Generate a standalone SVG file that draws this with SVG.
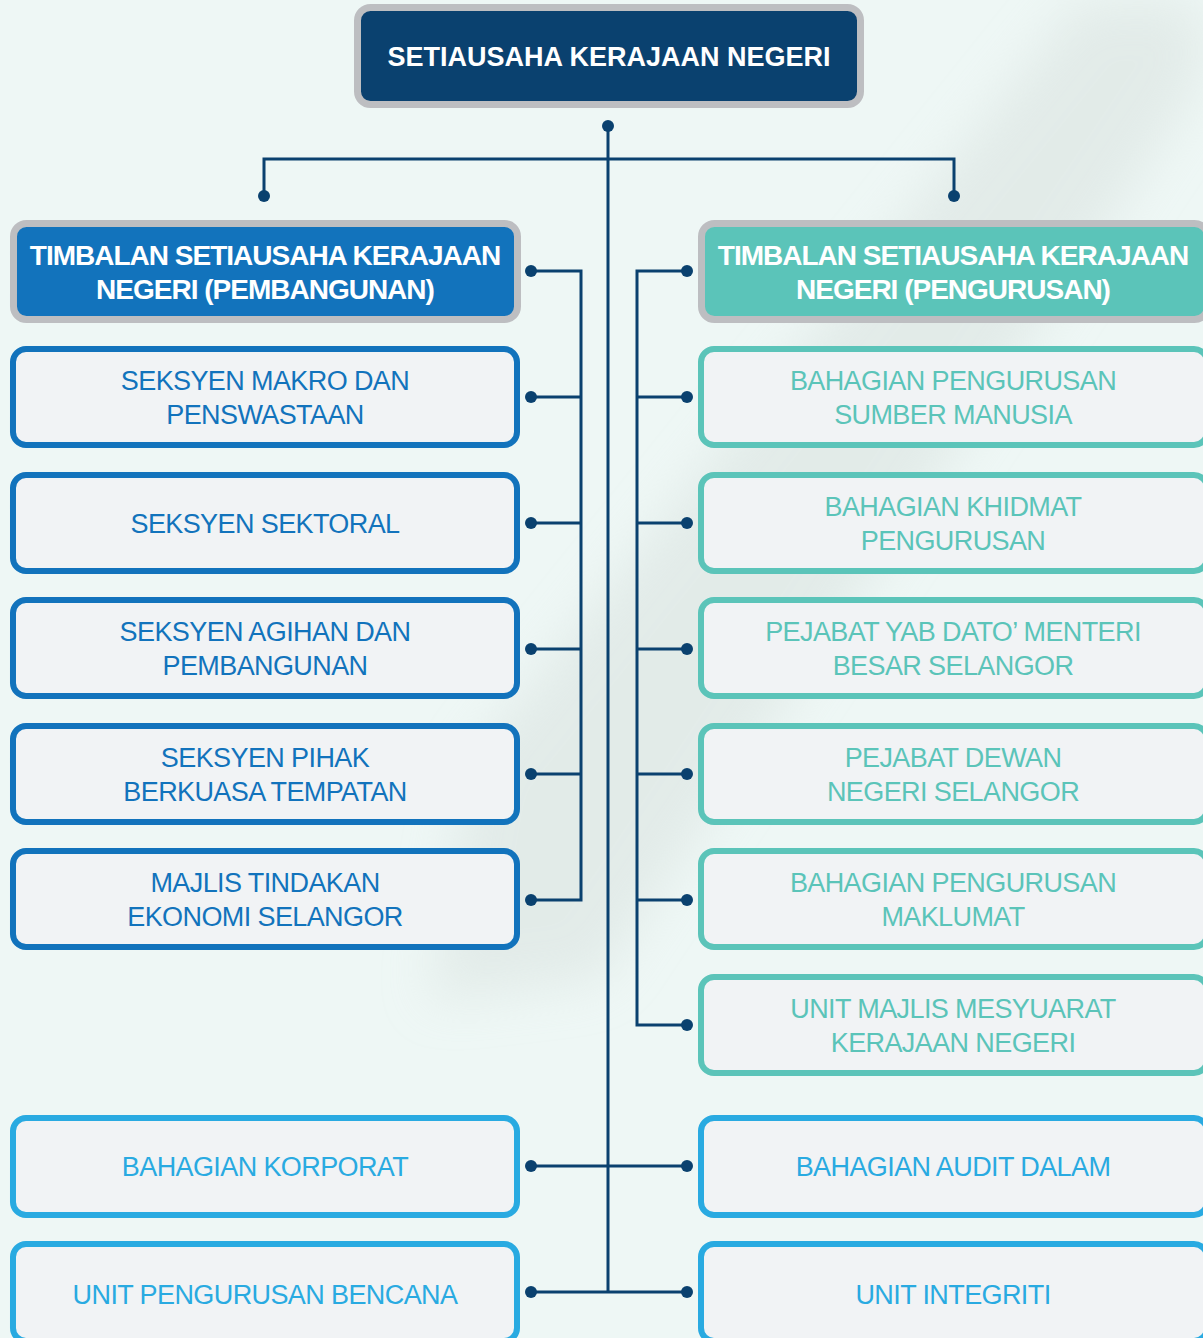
<svg xmlns="http://www.w3.org/2000/svg" width="1203" height="1338" viewBox="0 0 1203 1338">
<defs>
<filter id="blur" x="-20%" y="-20%" width="140%" height="140%"><feGaussianBlur stdDeviation="25"/></filter>
<style>
.bg{fill:#eef7f5}
.stripe{fill:#d9e2df;opacity:0.55}
.top{fill:#0a416f;stroke:#bdbec1;stroke-width:7}
.depL{fill:#1273bc;stroke:#bdbec1;stroke-width:7}
.depR{fill:#5bc4b9;stroke:#bdbec1;stroke-width:7}
.boxL{fill:#f1f3f5;stroke:#1273bc;stroke-width:6}
.boxR{fill:#f1f3f5;stroke:#5bc4b9;stroke-width:6}
.boxB{fill:#f1f3f5;stroke:#29aae1;stroke-width:6}
.tw{font-family:"Liberation Sans",Arial,sans-serif;font-weight:bold;fill:#ffffff;text-anchor:middle}
.tt{font-family:"Liberation Sans",Arial,sans-serif;font-size:27px;letter-spacing:-0.6px;text-anchor:middle}
.cL{fill:#1273bc}.cR{fill:#5bc4b9}.cB{fill:#29aae1}
.ln{fill:none;stroke:#0a416f;stroke-width:3}
.dot{fill:#0a416f}
</style>
</defs>
<rect class="bg" x="0" y="0" width="1203" height="1338"/>
<polygon class="stripe" filter="url(#blur)" points="1080,0 1203,0 1203,80 600,980 430,1000 470,760"/>

<g id="connectors">
<path class="ln" d="M608 126 V1292 M264 196 V159 H954 V196"/>
<path class="ln" d="M531 271 H581 V900 H531 M531 397 H581 M531 523 H581 M531 649 H581 M531 774 H581"/>
<path class="ln" d="M687 271 H637 V1025 H687 M637 397 H687 M637 523 H687 M637 649 H687 M637 774 H687 M637 900 H687"/>
<path class="ln" d="M531 1166 H687 M531 1292 H687"/>
<g class="dot">
<circle cx="608" cy="126" r="6"/><circle cx="264" cy="196" r="6"/><circle cx="954" cy="196" r="6"/>
<circle cx="531" cy="271" r="6"/><circle cx="531" cy="397" r="6"/><circle cx="531" cy="523" r="6"/><circle cx="531" cy="649" r="6"/><circle cx="531" cy="774" r="6"/><circle cx="531" cy="900" r="6"/>
<circle cx="687" cy="271" r="6"/><circle cx="687" cy="397" r="6"/><circle cx="687" cy="523" r="6"/><circle cx="687" cy="649" r="6"/><circle cx="687" cy="774" r="6"/><circle cx="687" cy="900" r="6"/><circle cx="687" cy="1025" r="6"/>
<circle cx="531" cy="1166" r="6"/><circle cx="531" cy="1292" r="6"/><circle cx="687" cy="1166" r="6"/><circle cx="687" cy="1292" r="6"/>
</g>
</g>

<g id="n-sukn"><rect class="top" x="357.5" y="7.5" width="503" height="97" rx="13"/><text class="tw" x="609" y="66" font-size="27">SETIAUSAHA KERAJAAN NEGERI</text></g>

<g id="n-tsukn-pemb"><rect class="depL" x="13.5" y="223.5" width="504" height="96" rx="13"/><text class="tw" x="265" y="265" font-size="28" letter-spacing="-1">TIMBALAN SETIAUSAHA KERAJAAN</text><text class="tw" x="265" y="299" font-size="28" letter-spacing="-1">NEGERI (PEMBANGUNAN)</text></g>
<g id="n-tsukn-peng"><rect class="depR" x="701.5" y="223.5" width="506" height="96" rx="13"/><text class="tw" x="953" y="265" font-size="28" letter-spacing="-1">TIMBALAN SETIAUSAHA KERAJAAN</text><text class="tw" x="953" y="299" font-size="28" letter-spacing="-1">NEGERI (PENGURUSAN)</text></g>

<g id="n-makro"><rect class="boxL" x="13" y="349" width="504" height="96" rx="13"/><text class="tt cL" x="265" y="390">SEKSYEN MAKRO DAN</text><text class="tt cL" x="265" y="424">PENSWASTAAN</text></g>
<g id="n-sektoral"><rect class="boxL" x="13" y="475" width="504" height="96" rx="13"/><text class="tt cL" x="265" y="533">SEKSYEN SEKTORAL</text></g>
<g id="n-agihan"><rect class="boxL" x="13" y="600" width="504" height="96" rx="13"/><text class="tt cL" x="265" y="641">SEKSYEN AGIHAN DAN</text><text class="tt cL" x="265" y="675">PEMBANGUNAN</text></g>
<g id="n-pbt"><rect class="boxL" x="13" y="726" width="504" height="96" rx="13"/><text class="tt cL" x="265" y="767">SEKSYEN PIHAK</text><text class="tt cL" x="265" y="801">BERKUASA TEMPATAN</text></g>
<g id="n-mtes"><rect class="boxL" x="13" y="851" width="504" height="96" rx="13"/><text class="tt cL" x="265" y="892">MAJLIS TINDAKAN</text><text class="tt cL" x="265" y="926">EKONOMI SELANGOR</text></g>

<g id="n-bpsm"><rect class="boxR" x="701" y="349" width="506" height="96" rx="13"/><text class="tt cR" x="953" y="390">BAHAGIAN PENGURUSAN</text><text class="tt cR" x="953" y="424">SUMBER MANUSIA</text></g>
<g id="n-bkp"><rect class="boxR" x="701" y="475" width="506" height="96" rx="13"/><text class="tt cR" x="953" y="516">BAHAGIAN KHIDMAT</text><text class="tt cR" x="953" y="550">PENGURUSAN</text></g>
<g id="n-mb"><rect class="boxR" x="701" y="600" width="506" height="96" rx="13"/><text class="tt cR" x="953" y="641">PEJABAT YAB DATO’ MENTERI</text><text class="tt cR" x="953" y="675">BESAR SELANGOR</text></g>
<g id="n-dewan"><rect class="boxR" x="701" y="726" width="506" height="96" rx="13"/><text class="tt cR" x="953" y="767">PEJABAT DEWAN</text><text class="tt cR" x="953" y="801">NEGERI SELANGOR</text></g>
<g id="n-bpm"><rect class="boxR" x="701" y="851" width="506" height="96" rx="13"/><text class="tt cR" x="953" y="892">BAHAGIAN PENGURUSAN</text><text class="tt cR" x="953" y="926">MAKLUMAT</text></g>
<g id="n-mmkn"><rect class="boxR" x="701" y="977" width="506" height="96" rx="13"/><text class="tt cR" x="953" y="1018">UNIT MAJLIS MESYUARAT</text><text class="tt cR" x="953" y="1052">KERAJAAN NEGERI</text></g>

<g id="n-korporat"><rect class="boxB" x="13" y="1118" width="504" height="97" rx="13"/><text class="tt cB" x="265" y="1176">BAHAGIAN KORPORAT</text></g>
<g id="n-bencana"><rect class="boxB" x="13" y="1244" width="504" height="97" rx="13"/><text class="tt cB" x="265" y="1304">UNIT PENGURUSAN BENCANA</text></g>
<g id="n-audit"><rect class="boxB" x="701" y="1118" width="506" height="97" rx="13"/><text class="tt cB" x="953" y="1176">BAHAGIAN AUDIT DALAM</text></g>
<g id="n-integriti"><rect class="boxB" x="701" y="1244" width="506" height="97" rx="13"/><text class="tt cB" x="953" y="1304">UNIT INTEGRITI</text></g>
</svg>
